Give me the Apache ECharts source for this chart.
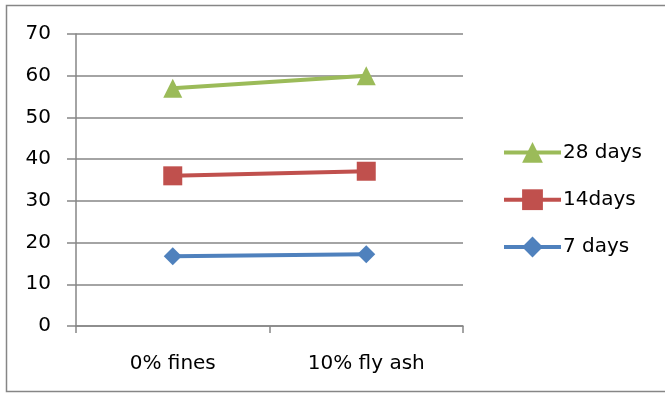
<!DOCTYPE html>
<html>
<head>
<meta charset="utf-8">
<script src="https://cdn.jsdelivr.net/npm/echarts@6/dist/echarts.min.js"></script>
<style>
  html, body { margin: 0; padding: 0; background: #fff; }
  #chart { width: 665px; height: 394px; }
</style>
</head>
<body>
<div id="chart"></div>
<script>
// Compressive strength by mix and curing age
const categories = ['0% fines', '10% fly ash'];
const days7 = [16.7, 17.2];
const days14 = [36.0, 37.1];
const days28 = [57.0, 60.0];
const yTicks = { min: 0, max: 70, interval: 10 };

const FONT = '"DejaVu Sans", sans-serif';
const GRID_COLOR = '#868686';

const chart = echarts.init(document.getElementById('chart'), null, { renderer: 'canvas' });

function lineSeries(name, data, color, symbol, size) {
  return {
    name: name,
    type: 'line',
    data: data,
    symbol: symbol,
    symbolSize: size,
    lineStyle: { color: color, width: 4 },
    itemStyle: { color: color },
    z: 3
  };
}

chart.setOption({
  animation: false,
  backgroundColor: '#fff',
  textStyle: { fontFamily: FONT },
  graphic: [{
    type: 'rect',
    shape: { x: 6.5, y: 5.5, width: 670, height: 386 },
    style: { fill: 'none', stroke: GRID_COLOR, lineWidth: 1.5 },
    silent: true
  }],
  grid: { left: 76, right: 202, top: 34, bottom: 68 },
  legend: {
    orient: 'vertical',
    left: 497,
    top: 137,
    itemWidth: 57,
    itemHeight: 26,
    itemGap: 26.5,
    data: ['28 days', '14days', '7 days'],
    lineStyle: { width: 4 },
    textStyle: { fontSize: 20, color: '#000', fontFamily: FONT, padding: [0, 0, 0, -3] }
  },
  xAxis: {
    type: 'category',
    data: categories,
    boundaryGap: true,
    axisLine: { lineStyle: { color: GRID_COLOR, width: 1.5 } },
    axisTick: { show: true, length: 7, lineStyle: { color: GRID_COLOR, width: 1.5 } },
    axisLabel: { fontSize: 20, color: '#000', margin: 28, fontFamily: FONT },
    splitLine: { show: false }
  },
  yAxis: {
    type: 'value',
    min: yTicks.min,
    max: yTicks.max,
    interval: yTicks.interval,
    axisLine: { show: true, lineStyle: { color: GRID_COLOR, width: 1.5 } },
    axisTick: { show: true, length: 9, lineStyle: { color: GRID_COLOR, width: 1.5 } },
    axisLabel: { fontSize: 20, color: '#000', margin: 25, fontFamily: FONT },
    splitLine: { show: true, lineStyle: { color: GRID_COLOR, width: 1.5 } }
  },
  series: [
    lineSeries('7 days', days7, '#4F81BD', 'diamond', 18),
    lineSeries('14days', days14, '#C0504D', 'rect', 19),
    lineSeries('28 days', days28, '#9BBB59', 'triangle', 19)
  ]
});
</script>
</body>
</html>
